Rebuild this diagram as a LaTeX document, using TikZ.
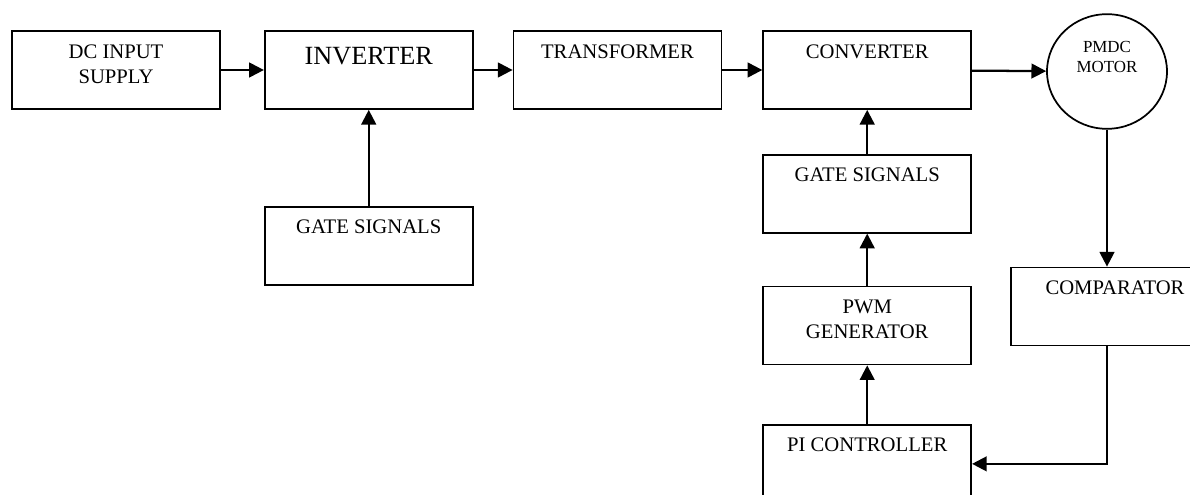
\documentclass[tikz,border=0pt]{standalone}
\usepackage{fontspec}
\setmainfont{Liberation Serif}
\usetikzlibrary{positioning,arrows.meta,shapes.geometric}

\begin{document}
\begin{tikzpicture}[x=0.75pt, y=-0.75pt,
  txt/.style={font=\fontsize{15.5}{18.75}\selectfont, align=center, inner sep=0pt},
  blk/.style={draw, line width=1.3pt, minimum width=156pt, minimum height=58.5pt, inner sep=0pt},
  head/.style={label={[txt, anchor=north, yshift=-10.5pt]north:#1}},
  sig/.style={-{Triangle[length=11pt, width=11pt]}, line width=1.7pt}]

\clip (0,0) rectangle (1190,495);

\node[blk, head={DC INPUT\\SUPPLY}] (dc) at (116,70) {};
\node[blk, right=32.25pt of dc,
  label={[txt, font=\fontsize{19.7}{23}\selectfont, anchor=north, yshift=-12.75pt]north:INVERTER}] (inv) {};
\node[blk, right=29.25pt of inv, head={TRANSFORMER}] (trf) {};
\node[blk, right=30pt of trf, head={CONVERTER}] (conv) {};
\node[draw, ellipse, line width=1.3pt, minimum width=90pt, minimum height=86pt, inner sep=0pt,
  label={[txt, font=\fontsize{12.7}{15}\selectfont, anchor=north, yshift=-20.5pt]north:PMDC\\MOTOR}] (motor) at (1107,71.5) {};

\node[blk, below=72pt of inv, head={GATE SIGNALS}] (gsl) {};
\node[blk, below=33pt of conv, head={GATE SIGNALS}] (gsr) {};
\node[blk, below=39pt of gsr, head={PWM\\GENERATOR}] (pwm) {};
\node[blk, below=44pt of pwm, head={PI CONTROLLER}] (pi) {};
\node[blk, head={COMPARATOR}] (cmp) at (1115,306.5) {};

% forward path
\draw[sig] (dc) -- (inv);
\draw[sig] (inv) -- (trf);
\draw[sig] (trf) -- (conv);
\draw[sig] (conv) -- (motor);
\draw[sig] (gsl) -- (inv);

% speed loop
\draw[sig] (motor.south) -- (motor.south |- cmp.north);
\draw[sig] (motor.south |- cmp.south) |- (pi.east);
\draw[sig] (pi) -- (pwm);
\draw[sig] (pwm) -- (gsr);
\draw[sig] (gsr) -- (conv);
\end{tikzpicture}
\end{document}
